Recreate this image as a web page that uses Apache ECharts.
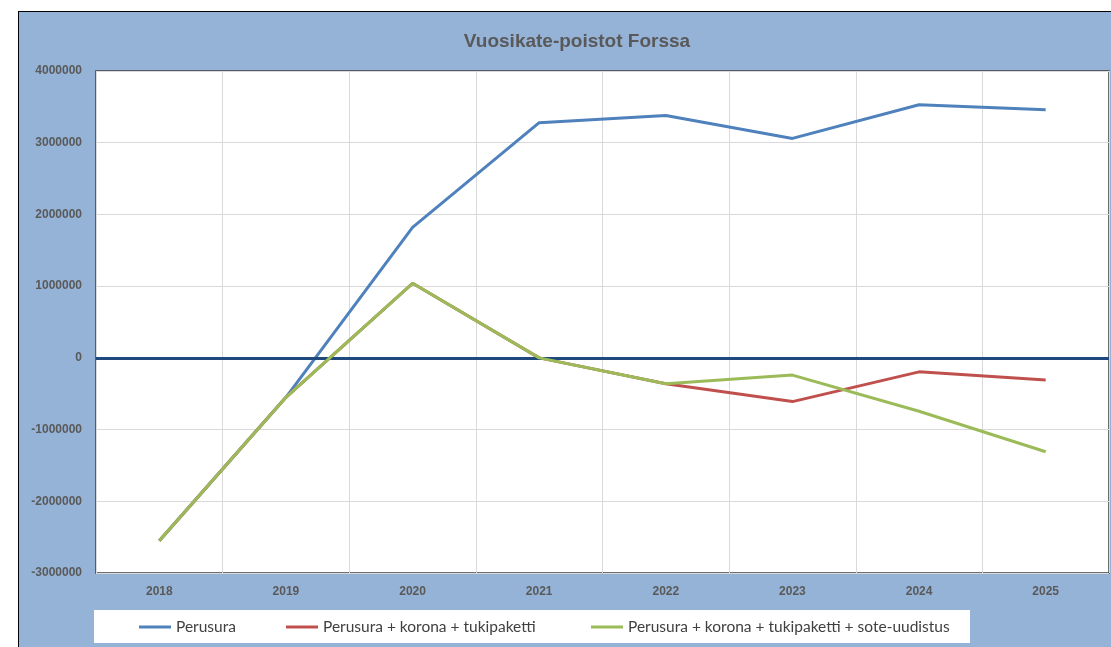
<!DOCTYPE html>
<html>
<head>
<meta charset="utf-8">
<script src="https://cdn.jsdelivr.net/npm/echarts@6/dist/echarts.min.js"></script>
<style>
    html,body{margin:0;padding:0;background:#fff;overflow:hidden;}
    .frame{position:absolute;left:18px;top:11px;width:1120px;height:650px;background:#95B3D7;border:1px solid #000;}
    .legend-box{position:absolute;left:94px;top:610px;width:876px;height:33px;background:#fff;}
    #chart{position:absolute;left:0;top:0;width:1111px;height:647px;}
</style>
</head>
<body>
<div class="frame"></div>
<div class="legend-box"></div>
<div id="chart"></div>
<script>
// vuodet ja sarjat
var years = ['2018', '2019', '2020', '2021', '2022', '2023', '2024', '2025'];
var perusura = [-2550000, -550000, 1820000, 3280000, 3380000, 3060000, 3530000, 3460000];
var korona = [-2550000, -550000, 1040000, 0, -360000, -610000, -195000, -310000];
var sote = [-2550000, -550000, 1040000, 0, -360000, -240000, -745000, -1310000];
var seriesNames = ['Perusura', 'Perusura + korona + tukipaketti', 'Perusura + korona + tukipaketti + sote-uudistus'];
var seriesColors = ['#4F81BD', '#C0504D', '#9BBB59'];

var chart = echarts.init(document.getElementById('chart'));

function legendAt(name, left){
    return {
        data: [name],
        left: left,
        top: 619,
        padding: 0,
        icon: 'rect',
        itemWidth: 32,
        itemHeight: 3,
        itemGap: 0,
        selectedMode: false,
        textStyle: {color: '#404040', fontFamily: 'Lato', fontSize: 15.5}
    };
}

var axisText = {color: '#595959', fontFamily: 'Liberation Sans', fontWeight: 'bold', fontSize: 12};

var option = {
    animation: false,
    title: {
        text: 'Vuosikate-poistot Forssa',
        left: 572,
        top: 27,
        textAlign: 'center',
        textStyle: {color: '#595959', fontFamily: 'Liberation Sans', fontWeight: 'bold', fontSize: 19}
    },
    legend: [
        legendAt(seriesNames[0], 139),
        legendAt(seriesNames[1], 286),
        legendAt(seriesNames[2], 591)
    ],
    grid: {
        left: 96,
        top: 71,
        width: 1013,
        height: 502,
        show: true,
        backgroundColor: '#fff',
        borderColor: '#404040',
        borderWidth: 1.5
    },
    xAxis: {
        type: 'category',
        data: years,
        boundaryGap: true,
        axisLine: {show: false, onZero: false},
        axisTick: {show: false},
        axisLabel: Object.assign({margin: 13}, axisText),
        splitLine: {show: true, lineStyle: {color: '#D9D9D9', width: 1}}
    },
    yAxis: {
        type: 'value',
        min: -3000000,
        max: 4000000,
        interval: 1000000,
        axisLine: {show: false},
        axisTick: {show: false},
        axisLabel: Object.assign({margin: 14, formatter: function(v){ return String(v); }}, axisText),
        splitLine: {lineStyle: {color: '#D9D9D9', width: 1}}
    },
    series: [
        {
            name: seriesNames[0],
            type: 'line',
            data: perusura,
            showSymbol: false,
            symbol: 'none',
            lineStyle: {width: 3, color: seriesColors[0]},
            itemStyle: {color: seriesColors[0]},
            markLine: {
                silent: true,
                symbol: 'none',
                label: {show: false},
                lineStyle: {color: '#1F497D', width: 3, type: 'solid'},
                data: [{yAxis: 0}]
            },
            z: 3
        },
        {
            name: seriesNames[1],
            type: 'line',
            data: korona,
            showSymbol: false,
            symbol: 'none',
            lineStyle: {width: 3, color: seriesColors[1]},
            itemStyle: {color: seriesColors[1]},
            z: 4
        },
        {
            name: seriesNames[2],
            type: 'line',
            data: sote,
            showSymbol: false,
            symbol: 'none',
            lineStyle: {width: 3, color: seriesColors[2]},
            itemStyle: {color: seriesColors[2]},
            z: 5
        }
    ]
};
chart.setOption(option);
</script>
</body>
</html>
